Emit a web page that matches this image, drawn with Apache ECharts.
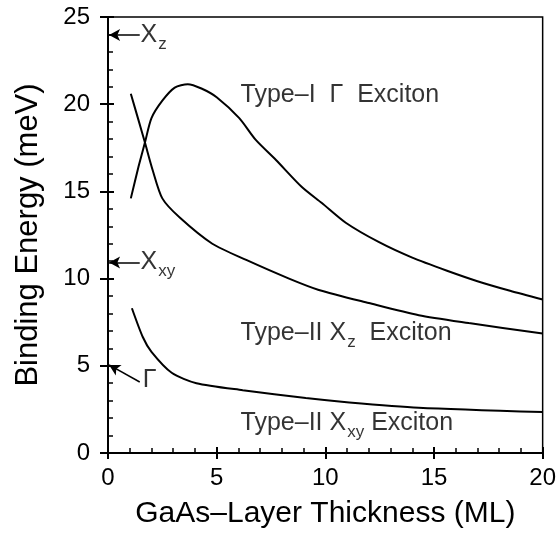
<!DOCTYPE html>
<html>
<head>
<meta charset="utf-8">
<script src="https://cdn.jsdelivr.net/npm/echarts@6/dist/echarts.min.js"></script>
<style>
  html, body { margin: 0; padding: 0; background: #fff; }
  #chart { width: 559px; height: 535px; }
</style>
</head>
<body>
<div id="chart"></div>
<script>
// thickness (ML) and binding energies (meV)
const gammaX = [1.05, 1.4, 1.7, 2.0, 2.5, 3.07, 3.67, 4.3, 5.0, 6.04, 6.8, 7.73, 8.92, 9.84, 10.94, 12.45, 14.0, 15.6, 17.0, 18.5, 20]
const gammaY = [14.6, 16.4, 17.8, 19.2, 20.2, 20.95, 21.15, 20.9, 20.4, 19.2, 17.95, 16.8, 15.25, 14.33, 13.2, 12.1, 11.2, 10.45, 9.85, 9.3, 8.8]

const xzX = [1.05, 1.4, 1.7, 2.06, 2.5, 3.3, 4.8, 6.36, 8.33, 9.7, 12.0, 14.3, 16.6, 20]
const xzY = [20.6, 19.1, 17.8, 16.2, 14.6, 13.5, 12.0, 11.07, 10.0, 9.35, 8.6, 7.9, 7.45, 6.85]

const xxyX = [1.1, 1.6, 2.0, 2.93, 4.07, 6.2, 9.1, 11.1, 14.3, 20]
const xxyY = [8.3, 6.65, 5.8, 4.6, 4.0, 3.6, 3.15, 2.9, 2.6, 2.35]

// bulk reference energies marked with arrows at the axis
const arrowY = [23.97, 10.92, 5.05]
const arrowTailX = [1.46, 1.46, 1.46]
const arrowTailY = [23.97, 10.92, 4.07]

const noteText = ['{m|X}{s|z}', '{m|X}{s|xy}', '{m|Γ}', '{m|Type–I  Γ  Exciton}', '{m|Type–II X}{s|z}{m|  Exciton}', '{m|Type–II X}{s|xy}{m| Exciton}']
const noteX = [1.5, 1.5, 1.6, 6.1, 6.1, 6.1]
const noteY = [23.97, 10.92, 4.2, 20.5, 6.88, 1.7]

const xTicks = [0, 5, 10, 15, 20]
const yTicks = [0, 5, 10, 15, 20, 25]

function pairs (xs, ys) {
  return xs.map((x, i) => [x, ys[i]])
}

const font = 'Liberation Sans, Arial, Helvetica, sans-serif'
const richStyle = {
  m: { fontSize: 25, fontFamily: font, color: '#000' },
  s: { fontSize: 17, fontFamily: font, color: '#000', padding: [18, 0, 0, 1] }
}

const chart = echarts.init(document.getElementById('chart'))

const lineSeries = (data) => ({
  type: 'line',
  data: data,
  showSymbol: false,
  symbol: 'none',
  smooth: 0.25,
  lineStyle: { color: '#000', width: 2 },
  xAxisIndex: 0,
  yAxisIndex: 0,
  silent: true
})

const options = {
  animation: false,
  backgroundColor: '#fff',
  grid: {
    left: 108,
    right: 14,
    top: 17,
    bottom: 82,
    show: true,
    borderColor: '#000',
    borderWidth: 1.5
  },
  xAxis: [
    {
      type: 'value',
      min: 0,
      max: 20,
      interval: 5,
      name: 'GaAs–Layer Thickness (ML)',
      nameLocation: 'middle',
      nameGap: 46,
      nameTextStyle: { fontSize: 30, fontFamily: font, color: '#000' },
      axisLine: { show: true, lineStyle: { color: '#000', width: 2 } },
      axisTick: { show: true, inside: true, length: 6, lineStyle: { color: '#000', width: 2 } },
      minorTick: { show: true, splitNumber: 5, length: 5, lineStyle: { color: '#000', width: 1.5 } },
      axisLabel: {
        fontSize: 24,
        fontFamily: font,
        color: '#000',
        margin: 13,
        formatter: v => (xTicks.indexOf(v) >= 0 ? String(v) : '')
      },
      splitLine: { show: false }
    },
    {
      type: 'value',
      position: 'bottom',
      min: 0,
      max: 20,
      interval: 5,
      axisLine: { show: false },
      axisTick: { show: true, inside: false, length: 6, lineStyle: { color: '#000', width: 2 } },
      axisLabel: { show: false },
      splitLine: { show: false }
    }
  ],
  yAxis: [
    {
      type: 'value',
      min: 0,
      max: 25,
      interval: 5,
      name: 'Binding Energy (meV)',
      nameLocation: 'middle',
      nameGap: 64,
      nameTextStyle: { fontSize: 31, fontFamily: font, color: '#000' },
      axisLine: { show: true, lineStyle: { color: '#000', width: 2 } },
      axisTick: { show: true, inside: true, length: 6, lineStyle: { color: '#000', width: 2 } },
      minorTick: { show: true, splitNumber: 5, length: 5, lineStyle: { color: '#000', width: 1.5 } },
      axisLabel: {
        fontSize: 24,
        fontFamily: font,
        color: '#000',
        margin: 18,
        formatter: v => (yTicks.indexOf(v) >= 0 ? String(v) : '')
      },
      splitLine: { show: false }
    },
    {
      type: 'value',
      position: 'left',
      min: 0,
      max: 25,
      interval: 5,
      axisLine: { show: false },
      axisTick: { show: true, inside: false, length: 8, lineStyle: { color: '#000', width: 2 } },
      axisLabel: { show: false },
      splitLine: { show: false }
    }
  ],
  series: [
    lineSeries(pairs(gammaX, gammaY)),
    lineSeries(pairs(xzX, xzY)),
    lineSeries(pairs(xxyX, xxyY)),
    {
      type: 'line',
      data: [],
      xAxisIndex: 0,
      yAxisIndex: 0,
      silent: true,
      markLine: {
        silent: true,
        animation: false,
        symbol: ['none', 'arrow'],
        symbolSize: [9, 11],
        label: { show: false },
        lineStyle: { color: '#000', width: 1.5, type: 'solid' },
        data: arrowY.map((y, i) => [
          { coord: [arrowTailX[i], arrowTailY[i]] },
          { coord: [0.05, y] }
        ])
      }
    },
    {
      type: 'scatter',
      symbolSize: 0,
      silent: true,
      xAxisIndex: 0,
      yAxisIndex: 0,
      data: noteX.map((x, i) => ({ value: [x, noteY[i]], name: noteText[i] })),
      label: {
        show: true,
        position: 'right',
        distance: 0,
        formatter: p => p.name,
        rich: richStyle
      }
    }
  ]
}

chart.setOption(options)
</script>
</body>
</html>
